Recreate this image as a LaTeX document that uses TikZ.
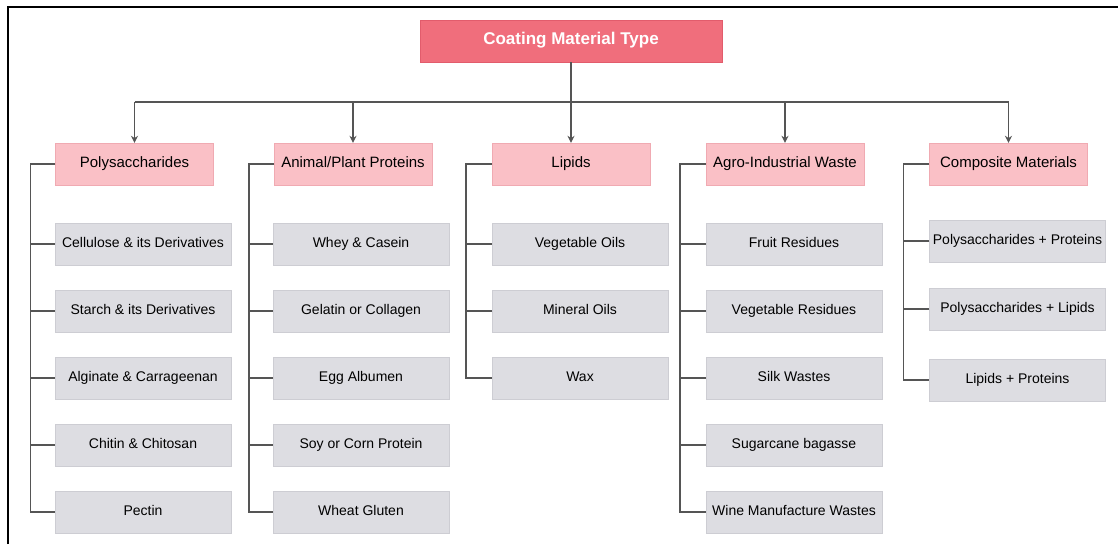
\documentclass[tikz,border=0pt]{standalone}
\usepackage{fontspec}
\setmainfont{Liberation Sans}
\usetikzlibrary{arrows.meta}
\definecolor{titlered}{RGB}{240,110,124}
\definecolor{titleedge}{RGB}{226,92,108}
\definecolor{catpink}{RGB}{250,192,198}
\definecolor{catedge}{RGB}{240,170,178}
\definecolor{leafgray}{RGB}{221,221,226}
\definecolor{leafedge}{RGB}{205,205,211}
\definecolor{wire}{RGB}{85,85,85}
\begin{document}
\begin{tikzpicture}[x=1pt, y=-1pt, align=center, text height=1.4ex, text depth=0.1ex,
	title/.style={draw=titleedge, fill=titlered, minimum width=302pt, minimum height=42pt, text=white, font=\fontsize{17}{20}\selectfont\bfseries},
	cat/.style={draw=catedge, fill=catpink, minimum width=158pt, minimum height=42pt, font=\fontsize{15}{18}\selectfont},
	leaf/.style={draw=leafedge, fill=leafgray, minimum width=176pt, minimum height=42pt, inner sep=1pt, font=\fontsize{14}{17}\selectfont},
	wire/.style={draw=wire, line width=1.5pt},
	>={Stealth[length=7pt, width=7pt]}]
	\useasboundingbox (0,0) rectangle (1118,544);
	\draw[line width=2pt] (8,544) -- (8,7) -- (1118,7);
	\node[title] (coating) at (571,41) {Coating Material Type};
	%%%%%%%%%%%%%
	\node[cat] (poly) at (134.5,164) {Polysaccharides};
	\node[cat] (proteins) at (353,164) {Animal/Plant Proteins};
	\node[cat] (lipids) at (571,164) {Lipids};
	\node[cat] (agro) at (785,164) {Agro-Industrial Waste};
	\node[cat] (composite) at (1008.5,164) {Composite Materials};
	%%%%%%%%%%%%%
	\node[leaf] (cellulose) at (143,244) {Cellulose \& its Derivatives};
	\node[leaf] (starch) at (143,311) {Starch \& its Derivatives};
	\node[leaf] (alginate) at (143,378) {Alginate \& Carrageenan};
	\node[leaf] (chitin) at (143,445) {Chitin \& Chitosan};
	\node[leaf] (pectin) at (143,512) {Pectin};
	\node[leaf] (whey) at (361,244) {Whey \& Casein};
	\node[leaf] (gelatin) at (361,311) {Gelatin or Collagen};
	\node[leaf] (egg) at (361,378) {Egg Albumen};
	\node[leaf] (soy) at (361,445) {Soy or Corn Protein};
	\node[leaf] (gluten) at (361,512) {Wheat Gluten};
	\node[leaf] (veg-oils) at (580,244) {Vegetable Oils};
	\node[leaf] (min-oils) at (580,311) {Mineral Oils};
	\node[leaf] (wax) at (580,378) {Wax};
	\node[leaf] (fruit) at (794,244) {Fruit Residues};
	\node[leaf] (veg-res) at (794,311) {Vegetable Residues};
	\node[leaf] (silk) at (794,378) {Silk Wastes};
	\node[leaf] (bagasse) at (794,445) {Sugarcane bagasse};
	\node[leaf] (wine) at (794,512) {Wine Manufacture Wastes};
	\node[leaf] (poly-prot) at (1017.5,241) {Polysaccharides + Proteins};
	\node[leaf] (poly-lip) at (1017.5,309) {Polysaccharides + Lipids};
	\node[leaf] (lip-prot) at (1017.5,380) {Lipids + Proteins};
	%%%%%%%%%%%%%
	\coordinate (bus) at ([yshift=-40pt]coating.south);
	\draw[wire, ->] (coating) -- (lipids);
	\draw[wire] (bus -| poly.north) -- (bus -| composite.north);
	\draw[wire, ->] (bus -| poly.north) -- (poly);
	\draw[wire, ->] (bus -| proteins.north) -- (proteins);
	\draw[wire, ->] (bus -| agro.north) -- (agro);
	\draw[wire, ->] (bus -| composite.north) -- (composite);
	%%%%%%%%%%%%%
	\draw[wire] (poly.west) -- ++(-25,0) |- (pectin.west);
	\draw[wire] (cellulose.west) -- ++(-25,0);
	\draw[wire] (starch.west) -- ++(-25,0);
	\draw[wire] (alginate.west) -- ++(-25,0);
	\draw[wire] (chitin.west) -- ++(-25,0);
	\draw[wire] (proteins.west) -- ++(-25,0) |- (gluten.west);
	\draw[wire] (whey.west) -- ++(-25,0);
	\draw[wire] (gelatin.west) -- ++(-25,0);
	\draw[wire] (egg.west) -- ++(-25,0);
	\draw[wire] (soy.west) -- ++(-25,0);
	\draw[wire] (lipids.west) -- ++(-26,0) |- (wax.west);
	\draw[wire] (veg-oils.west) -- ++(-26,0);
	\draw[wire] (min-oils.west) -- ++(-26,0);
	\draw[wire] (agro.west) -- ++(-26,0) |- (wine.west);
	\draw[wire] (fruit.west) -- ++(-26,0);
	\draw[wire] (veg-res.west) -- ++(-26,0);
	\draw[wire] (silk.west) -- ++(-26,0);
	\draw[wire] (bagasse.west) -- ++(-26,0);
	\draw[wire] (composite.west) -- ++(-26,0) |- (lip-prot.west);
	\draw[wire] (poly-prot.west) -- ++(-26,0);
	\draw[wire] (poly-lip.west) -- ++(-26,0);
\end{tikzpicture}
\end{document}
